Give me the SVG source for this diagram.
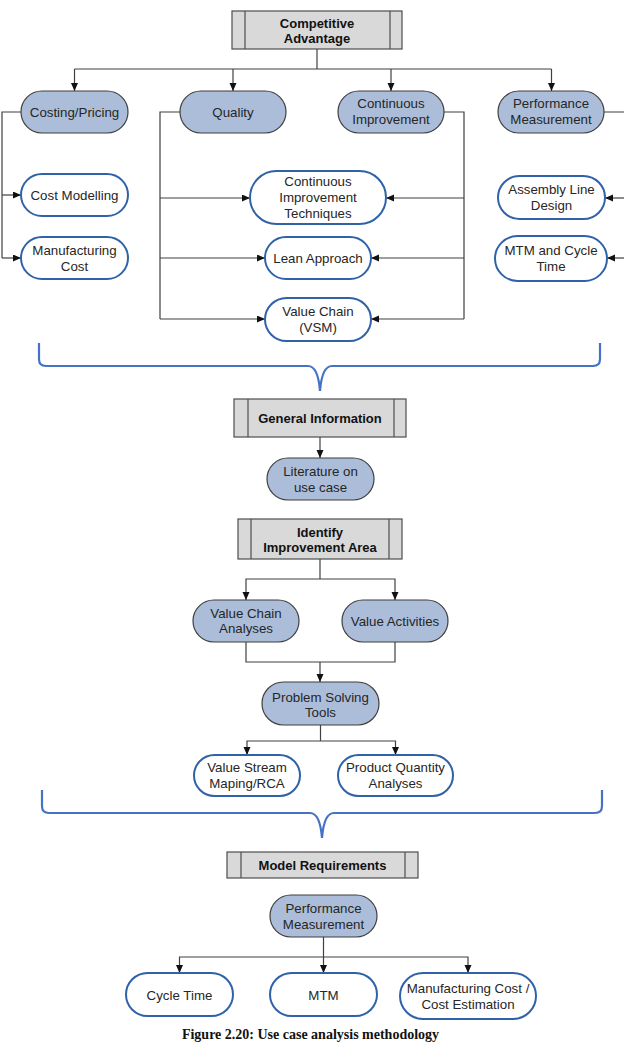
<svg xmlns="http://www.w3.org/2000/svg" width="624" height="1043" viewBox="0 0 624 1043">
<style>
  text { font-family: "Liberation Sans", Arial, sans-serif; font-size: 13.3px; fill: #262626; text-anchor: middle; }
  .hdr text { font-weight: bold; fill: #111; font-size: 13px; }
  .hdr rect { fill: #d9d9d9; stroke: #4d4d4d; stroke-width: 1.2; }
  .hdr line { stroke: #4d4d4d; stroke-width: 1.2; }
  .fill { fill: #abbdd9; stroke: #3f3f3f; stroke-width: 1.2; }
  .out { fill: #ffffff; stroke: #2f62a8; stroke-width: 2; }
  .conn path { fill: none; stroke: #404040; stroke-width: 1.2; }
  .brace { fill: none; stroke: #4472c4; stroke-width: 2.2; }
  .cap { font-family: "Liberation Serif", "Times New Roman", serif; font-size: 14px; font-weight: bold; fill: #111; }
</style>
<defs>
  <marker id="arr" markerUnits="userSpaceOnUse" markerWidth="9" markerHeight="8" refX="8" refY="3.5" orient="auto">
    <path d="M0,0 L8,3.5 L0,7 z" fill="#111"/>
  </marker>
</defs>
<rect width="624" height="1043" fill="#ffffff"/>

<g class="conn">
  <path d="M317,49 V69"/>
  <path d="M74.5,69 H551.5"/>
  <path d="M74.5,69 V91" marker-end="url(#arr)"/>
  <path d="M233,69 V91" marker-end="url(#arr)"/>
  <path d="M391,69 V91" marker-end="url(#arr)"/>
  <path d="M551.5,69 V91" marker-end="url(#arr)"/>
  <path d="M21,112 H2 V258"/>
  <path d="M2,195 H21" marker-end="url(#arr)"/>
  <path d="M2,258 H21" marker-end="url(#arr)"/>
  <path d="M180,112 H160 V319"/>
  <path d="M160,198 H250" marker-end="url(#arr)"/>
  <path d="M160,258 H265" marker-end="url(#arr)"/>
  <path d="M160,319 H265" marker-end="url(#arr)"/>
  <path d="M444,112 H464 V319"/>
  <path d="M464,198 H386" marker-end="url(#arr)"/>
  <path d="M464,258 H371" marker-end="url(#arr)"/>
  <path d="M464,319 H371" marker-end="url(#arr)"/>
  <path d="M604,112 H625 V258"/>
  <path d="M625,198 H605" marker-end="url(#arr)"/>
  <path d="M625,258 H607" marker-end="url(#arr)"/>
  <path d="M320,437 V458" marker-end="url(#arr)"/>
  <path d="M320,559 V579"/>
  <path d="M320,579 H246 V600" marker-end="url(#arr)"/>
  <path d="M320,579 H395 V600" marker-end="url(#arr)"/>
  <path d="M246,642 V662 H395 V642"/>
  <path d="M320,662 V682" marker-end="url(#arr)"/>
  <path d="M320.5,725 V741"/>
  <path d="M320.5,741 H247 V755" marker-end="url(#arr)"/>
  <path d="M320.5,741 H395.5 V755" marker-end="url(#arr)"/>
  <path d="M323.5,937 V973" marker-end="url(#arr)"/>
  <path d="M323.5,957 H179.5 V973" marker-end="url(#arr)"/>
  <path d="M323.5,957 H468 V973" marker-end="url(#arr)"/>
</g>

<g id="brace1"><path class="brace" d="M39,343 V359 Q39,366 46,366 H308 Q318,366 320,391 Q322,366 332,366 H593 Q600,366 600,359 V343"/></g>
<g id="brace2"><path class="brace" d="M42,790 V806 Q42,813 49,813 H310 Q320,813 322,838 Q324,813 334,813 H595 Q602,813 602,806 V790"/></g>

<g id="competitive-advantage" class="hdr">
  <rect x="232" y="11" width="170" height="38"/>
  <line x1="245" y1="11" x2="245" y2="49"/><line x1="390" y1="11" x2="390" y2="49"/>
  <text x="317" y="27.5">Competitive</text><text x="317" y="42.5">Advantage</text>
</g>

<g id="costing-pricing"><rect class="fill" x="21" y="91" width="107" height="42" rx="21"/><text x="74.5" y="116.5">Costing/Pricing</text></g>
<g id="quality"><rect class="fill" x="180" y="91" width="106" height="42" rx="21"/><text x="233" y="116.5">Quality</text></g>
<g id="continuous-improvement"><rect class="fill" x="338" y="91" width="106" height="42" rx="21"/><text x="391" y="107.5">Continuous</text><text x="391" y="123.5">Improvement</text></g>
<g id="performance-measurement"><rect class="fill" x="498" y="91" width="106" height="42" rx="21"/><text x="551" y="107.5">Performance</text><text x="551" y="123.5">Measurement</text></g>

<g id="cost-modelling"><rect class="out" x="21" y="174" width="107" height="42" rx="21"/><text x="74.5" y="199.5">Cost Modelling</text></g>
<g id="manufacturing-cost"><rect class="out" x="21" y="237" width="107" height="42" rx="21"/><text x="74.5" y="254.5">Manufacturing</text><text x="74.5" y="270.5">Cost</text></g>

<g id="ci-techniques"><rect class="out" x="250" y="171" width="136" height="53" rx="26.5"/><text x="318" y="185.5">Continuous</text><text x="318" y="201.5">Improvement</text><text x="318" y="217.5">Techniques</text></g>
<g id="lean-approach"><rect class="out" x="265" y="237" width="106" height="42" rx="21"/><text x="318" y="262.5">Lean Approach</text></g>
<g id="value-chain-vsm"><rect class="out" x="265" y="298" width="106" height="43" rx="21.5"/><text x="318" y="315.5">Value Chain</text><text x="318" y="331.5">(VSM)</text></g>

<g id="assembly-line"><rect class="out" x="498" y="176" width="107" height="43" rx="21.5"/><text x="551.5" y="193.5">Assembly Line</text><text x="551.5" y="209.5">Design</text></g>
<g id="mtm-cycle-time"><rect class="out" x="495" y="236" width="112" height="45" rx="22.5"/><text x="551" y="254.5">MTM and Cycle</text><text x="551" y="270.5">Time</text></g>

<g id="general-information" class="hdr">
  <rect x="234" y="399" width="172" height="38"/>
  <line x1="248" y1="399" x2="248" y2="437"/><line x1="394" y1="399" x2="394" y2="437"/>
  <text x="320" y="422.5">General Information</text>
</g>
<g id="literature"><rect class="fill" x="267" y="458" width="107" height="42" rx="21"/><text x="320.5" y="475.5">Literature on</text><text x="320.5" y="491.5">use case</text></g>

<g id="identify-improvement-area" class="hdr">
  <rect x="238" y="519" width="164" height="40"/>
  <line x1="251" y1="519" x2="251" y2="559"/><line x1="389" y1="519" x2="389" y2="559"/>
  <text x="320" y="536.5">Identify</text><text x="320" y="551.5">Improvement Area</text>
</g>
<g id="value-chain-analyses"><rect class="fill" x="193" y="600" width="106" height="42" rx="21"/><text x="246" y="617.5">Value Chain</text><text x="246" y="632.5">Analyses</text></g>
<g id="value-activities"><rect class="fill" x="342" y="600" width="106" height="42" rx="21"/><text x="395" y="625.5">Value Activities</text></g>
<g id="problem-solving-tools"><rect class="fill" x="262" y="682" width="117" height="43" rx="21.5"/><text x="320.5" y="701.5">Problem Solving</text><text x="320.5" y="716.5">Tools</text></g>
<g id="value-stream-maping"><rect class="out" x="194" y="755" width="106" height="41" rx="20.5"/><text x="247" y="771.5">Value Stream</text><text x="247" y="787.5">Maping/RCA</text></g>
<g id="product-quantity"><rect class="out" x="338" y="755" width="115" height="41" rx="20.5"/><text x="395.5" y="771.5">Product Quantity</text><text x="395.5" y="787.5">Analyses</text></g>

<g id="model-requirements" class="hdr">
  <rect x="227" y="852" width="191" height="26"/>
  <line x1="241" y1="852" x2="241" y2="878"/><line x1="405" y1="852" x2="405" y2="878"/>
  <text x="322.5" y="869.5">Model Requirements</text>
</g>
<g id="performance-measurement-2"><rect class="fill" x="270" y="895" width="107" height="42" rx="21"/><text x="323.5" y="912.5">Performance</text><text x="323.5" y="928.5">Measurement</text></g>
<g id="cycle-time"><rect class="out" x="126" y="973" width="107" height="43" rx="21.5"/><text x="179.5" y="999.5">Cycle Time</text></g>
<g id="mtm"><rect class="out" x="270" y="973" width="107" height="43" rx="21.5"/><text x="323.5" y="999.5">MTM</text></g>
<g id="mfg-cost-estimation"><rect class="out" x="400" y="973" width="136" height="46" rx="23"/><text x="468" y="992.5">Manufacturing Cost /</text><text x="468" y="1008.5">Cost Estimation</text></g>

<text class="cap" x="310.5" y="1039">Figure 2.20: Use case analysis methodology</text>
</svg>
